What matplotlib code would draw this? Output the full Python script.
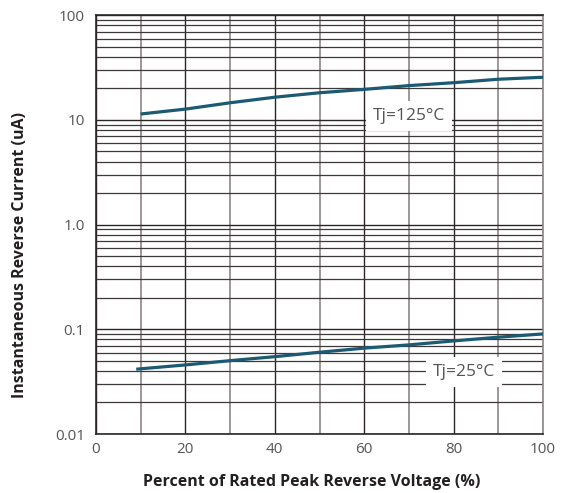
"""
Reverse leakage current vs. percent of rated peak reverse voltage,
datasheet-style log chart.
"""
import matplotlib
matplotlib.use("Agg")
import matplotlib.pyplot as plt
from matplotlib.ticker import FixedLocator, LogLocator, NullFormatter

plt.rcParams["font.family"] = ["Open Sans", "DejaVu Sans"]

# data
pct_125 = [10, 20, 30, 40, 50, 60, 70, 80, 90, 100]
ir_125 = [11.4, 12.7, 14.6, 16.5, 18.2, 19.6, 21.3, 22.7, 24.5, 25.6]
pct_25 = [9, 20, 30, 40, 50, 60, 70, 80, 90, 100]
ir_25 = [0.0416, 0.0457, 0.0502, 0.0548, 0.0604, 0.0661, 0.0710, 0.0775, 0.0841, 0.0904]

x_ticks = [0, 20, 40, 60, 80, 100]
y_ticks = [0.01, 0.1, 1.0, 10, 100]
y_tick_labels = ["0.01", "0.1", "1.0", "10", "100"]

CURVE = "#1b5a72"
DARK = "#2b2526"
GRAY_LINE = "#8c8585"
TICK_TEXT = "#555555"

fig = plt.figure(figsize=(5.75, 4.93), dpi=100)
ax = fig.add_axes([96 / 575, 1 - 434 / 493, (543 - 96) / 575, (434 - 15.3) / 493])

ax.set_yscale("log")
ax.set_xlim(0, 100)
ax.set_ylim(0.01, 100)

# grid: vertical every 10, horizontal at every log minor step
ax.xaxis.set_major_locator(FixedLocator(x_ticks))
ax.xaxis.set_minor_locator(FixedLocator([10, 30, 50, 70, 90]))
ax.yaxis.set_major_locator(FixedLocator(y_ticks))
ax.yaxis.set_minor_locator(LogLocator(base=10, subs=range(2, 10)))
ax.yaxis.set_minor_formatter(NullFormatter())
ax.set_yticklabels(y_tick_labels)

ax.grid(axis="x", which="major", color=DARK, linewidth=1.0)
ax.grid(axis="x", which="minor", color=GRAY_LINE, linewidth=1.2)
ax.grid(axis="y", which="major", color=DARK, linewidth=1.0)
ax.grid(axis="y", which="minor", color="#3e3839", linewidth=0.9)
ax.set_axisbelow(True)

ax.tick_params(which="both", length=0)
ax.tick_params(axis="both", labelsize=11, labelcolor=TICK_TEXT)
ax.tick_params(axis="x", pad=6)
ax.tick_params(axis="y", pad=8)

for name in ["top", "left", "bottom"]:
    ax.spines[name].set_color(DARK)
    ax.spines[name].set_linewidth(1.2)
ax.spines["right"].set_color(GRAY_LINE)
ax.spines["right"].set_linewidth(1.2)

ax.plot(pct_125, ir_125, color=CURVE, linewidth=2.3, solid_capstyle="butt", zorder=3)
ax.plot(pct_25, ir_25, color=CURVE, linewidth=2.3, solid_capstyle="butt", zorder=3)

box = dict(facecolor="white", edgecolor="none")
ax.text(70, 10.9, "Tj=125°C", fontsize=12.5, color=TICK_TEXT, ha="center", va="center",
        bbox=dict(box, boxstyle="square,pad=0.4"), zorder=4)
ax.text(82.3, 0.0394, "Tj=25°C", fontsize=12.5, color=TICK_TEXT, ha="center", va="center",
        bbox=dict(box, boxstyle="square,pad=0.4"), zorder=4)

fig.text(312 / 575, 1 - 482 / 493, "Percent of Rated Peak Reverse Voltage (%)",
         ha="center", va="center", fontsize=11.5, fontweight="bold", color="#231f20")
fig.text(20 / 575, 1 - 255 / 493, "Instantaneous Reverse Current (uA)",
         ha="center", va="center", rotation=90, fontsize=11.5, fontweight="bold", color="#231f20")

fig.savefig("out.png", dpi=100)
